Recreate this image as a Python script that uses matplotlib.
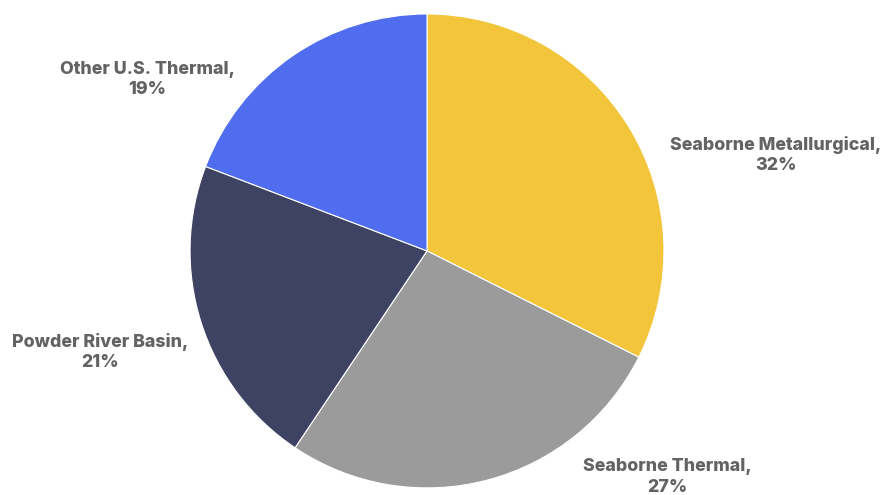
import matplotlib.pyplot as plt

# share of coal sales by market
categories = ["Seaborne Metallurgical", "Seaborne Thermal", "Powder River Basin", "Other U.S. Thermal"]
shares = [32.4, 27.0, 21.4, 19.2]
pct_labels = ["32%", "27%", "21%", "19%"]
colors = ["#F2C53A", "#9B9B9B", "#3E4263", "#506DEF"]

# label centres, in units of the pie radius
label_pos = [(1.473, 0.405), (1.013, -0.954), (-1.380, -0.426), (-1.181, 0.722)]

fig = plt.figure(figsize=(8.82, 4.95), dpi=100)
ax = fig.add_axes([0, 0, 1, 1])

ax.pie(shares, colors=colors, startangle=90, counterclock=False, radius=1,
       wedgeprops=dict(edgecolor="white", linewidth=0.8))

for name, pct, (x, y) in zip(categories, pct_labels, label_pos):
    ax.text(x, y, name + ",\n" + pct, ha="center", va="center",
            family=["Inter", "DejaVu Sans"], fontweight="heavy", fontsize=12.8,
            color="#636363", linespacing=1.25)

ax.set_xlim(-1.802, 1.920)
ax.set_ylim(-1.030, 1.059)
ax.set_aspect("auto")
ax.axis("off")

fig.savefig("out.png", dpi=100, facecolor="white")
